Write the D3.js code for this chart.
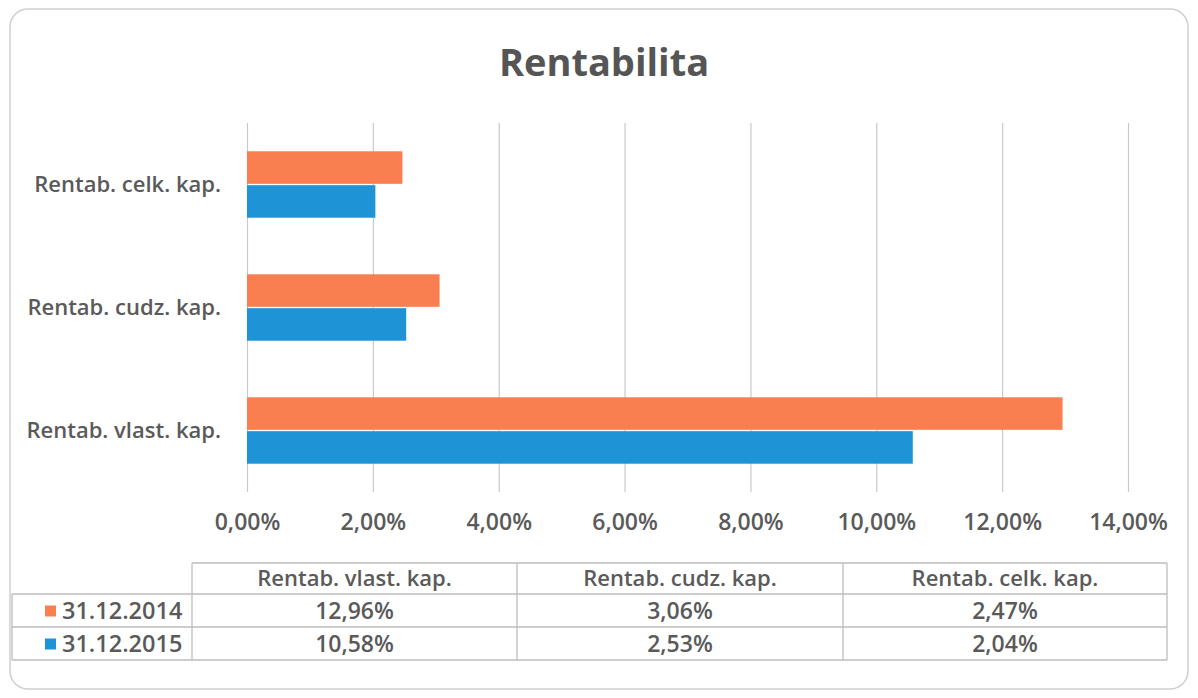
<!DOCTYPE html>
<html>
<head>
<meta charset="utf-8">
<script src="https://cdn.jsdelivr.net/npm/d3@7"></script>
<style>
  body { margin: 0; background: #fff; }
  svg { display: block; }
</style>
</head>
<body>
<svg id="chart"></svg>
<script>
// chart data
var categories = ["Rentab. vlast. kap.", "Rentab. cudz. kap.", "Rentab. celk. kap."];
var seriesNames = ["31.12.2014", "31.12.2015"];
var values2014 = [12.96, 3.06, 2.47];
var values2015 = [10.58, 2.53, 2.04];
var xTicks = [0, 2, 4, 6, 8, 10, 12, 14];

var WIDTH = 1198, HEIGHT = 698;
var COLORS = ["#f97e50", "#1e93d6"];
var TEXT_COLOR = "#5a5a5a";
var GRID_COLOR = "#c9c9c9";
var FONT = "'Open Sans', 'Liberation Sans', sans-serif";

var PLOT = { left: 247, right: 1128, top: 123, bottom: 492 };

var fmt = function (v) { return d3.format(".2f")(v).replace(".", ",") + "%"; };

var svg = d3.select("#chart")
    .attr("width", WIDTH)
    .attr("height", HEIGHT)
    .style("font-family", FONT)
    .style("font-weight", 600);

//outer frame
svg.append("rect")
    .attr("x", 10).attr("y", 9)
    .attr("width", WIDTH - 20).attr("height", HEIGHT - 18)
    .attr("rx", 18)
    .style("fill", "#fff")
    .style("stroke", "#cfcfcf")
    .style("stroke-width", 1.5);

//title
svg.append("text")
    .attr("x", 604).attr("y", 76)
    .style("text-anchor", "middle")
    .style("font-size", "38px")
    .style("font-weight", "bold")
    .style("fill", "#555")
    .text("Rentabilita");

var x = d3.scaleLinear()
    .domain([0, 14])
    .range([PLOT.left, PLOT.right]);

// categories listed bottom to top in the chart
var y = d3.scaleBand()
    .domain(categories.slice().reverse())
    .range([PLOT.top, PLOT.bottom])
    .paddingInner(0.46)
    .paddingOuter(0.23);

var sub = d3.scaleBand()
    .domain(seriesNames)
    .range([0, y.bandwidth()])
    .paddingInner(0.04);

//gridlines
var grid = svg.append("g")
    .attr("transform", "translate(0," + PLOT.bottom + ")")
    .call(d3.axisBottom(x).tickValues(xTicks).tickSize(-(PLOT.bottom - PLOT.top)).tickFormat(""));
grid.select(".domain").remove();
grid.selectAll("line").style("stroke", GRID_COLOR).style("stroke-width", 1.2);

//axis labels
var xAxis = svg.append("g")
    .attr("transform", "translate(0," + PLOT.bottom + ")")
    .call(d3.axisBottom(x).tickValues(xTicks).tickSize(0).tickPadding(22).tickFormat(fmt));
xAxis.select(".domain").remove();
xAxis.selectAll("text")
    .style("font-family", FONT)
    .style("font-weight", 600)
    .style("font-size", "23px")
    .style("fill", TEXT_COLOR);

var yAxis = svg.append("g")
    .attr("transform", "translate(" + PLOT.left + ",0)")
    .call(d3.axisLeft(y).tickSize(0).tickPadding(26));
yAxis.select(".domain").remove();
yAxis.selectAll("text")
    .style("font-family", FONT)
    .style("font-weight", 600)
    .style("font-size", "22px")
    .style("fill", TEXT_COLOR);

//bars
var series = [values2014, values2015];
series.forEach(function (vals, s) {
    svg.append("g")
        .selectAll("rect")
        .data(vals)
        .enter().append("rect")
        .attr("x", x(0))
        .attr("y", function (d, i) { return y(categories[i]) + sub(seriesNames[s]); })
        .attr("width", function (d) { return x(d) - x(0); })
        .attr("height", sub.bandwidth())
        .style("fill", COLORS[s]);
});

//data table
var colEdges = [192, 517, 843, 1167];
var rowEdges = [563, 594, 627, 660];
var table = svg.append("g");
var lineStyle = function (sel) {
    return sel.style("stroke", "#bdbdbd").style("stroke-width", 1.3);
};
//horizontal lines
rowEdges.forEach(function (ry, i) {
    lineStyle(table.append("line")
        .attr("x1", i === 0 ? colEdges[0] : 12)
        .attr("x2", colEdges[colEdges.length - 1])
        .attr("y1", ry).attr("y2", ry));
});
//vertical lines
colEdges.forEach(function (cx) {
    lineStyle(table.append("line")
        .attr("x1", cx).attr("x2", cx)
        .attr("y1", rowEdges[0]).attr("y2", rowEdges[3]));
});
lineStyle(table.append("line")
    .attr("x1", 12).attr("x2", 12)
    .attr("y1", rowEdges[1]).attr("y2", rowEdges[3]));

//header cells
categories.forEach(function (c, i) {
    table.append("text")
        .attr("x", (colEdges[i] + colEdges[i + 1]) / 2)
        .attr("y", (rowEdges[0] + rowEdges[1]) / 2)
        .attr("dy", ".35em")
        .style("text-anchor", "middle")
        .style("font-size", "22px")
        .style("fill", TEXT_COLOR)
        .text(c);
});

//value rows with legend keys
series.forEach(function (vals, s) {
    var cy = (rowEdges[s + 1] + rowEdges[s + 2]) / 2;
    table.append("rect")
        .attr("x", 45).attr("y", cy - 5)
        .attr("width", 11).attr("height", 11)
        .style("fill", COLORS[s]);
    table.append("text")
        .attr("x", 62).attr("y", cy)
        .attr("dy", ".35em")
        .style("font-size", "23.5px")
        .style("fill", TEXT_COLOR)
        .text(seriesNames[s]);
    vals.forEach(function (v, i) {
        table.append("text")
            .attr("x", (colEdges[i] + colEdges[i + 1]) / 2)
            .attr("y", cy)
            .attr("dy", ".35em")
            .style("text-anchor", "middle")
            .style("font-size", "23px")
            .style("fill", TEXT_COLOR)
            .text(fmt(v));
    });
});
</script>
</body>
</html>
